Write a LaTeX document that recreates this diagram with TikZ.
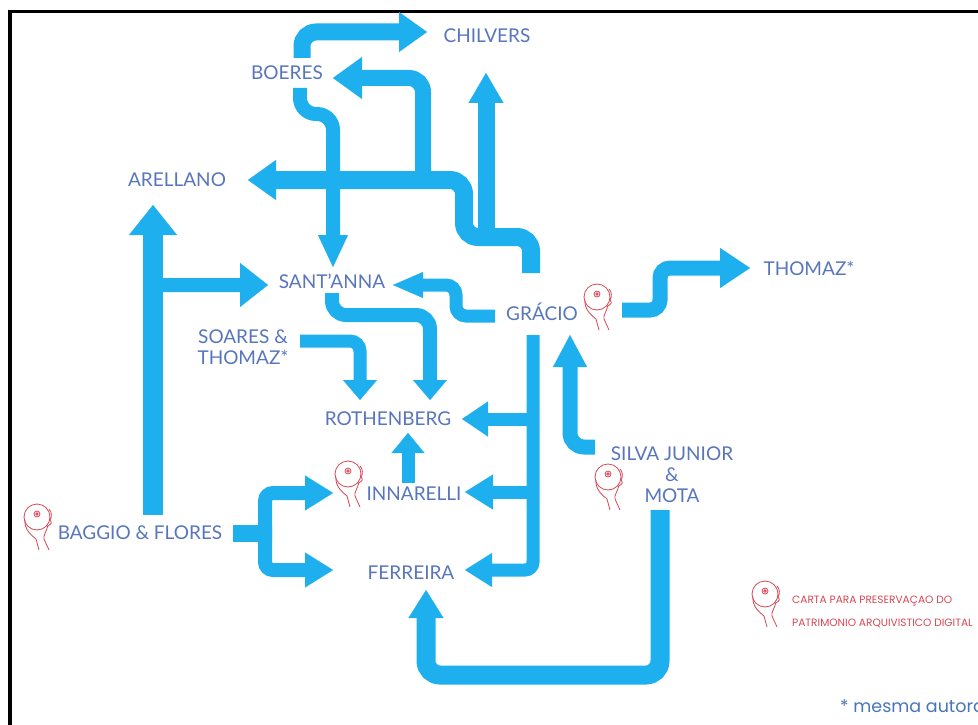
\documentclass[tikz,border=0pt]{standalone}
\usepackage{fontspec}
\setmainfont{Lato}
\newfontfamily\legfont{Poppins}
\usetikzlibrary{arrows.meta,calc}
\definecolor{arrowblue}{RGB}{30,176,238}
\definecolor{labelblue}{RGB}{88,118,188}
\definecolor{iconred}{RGB}{214,72,84}
\definecolor{notegray}{RGB}{72,118,186}
\begin{document}
\begin{tikzpicture}[x=1pt,y=-1pt,
  lab/.style={text=labelblue,font=\fontsize{19}{21}\selectfont,inner sep=0pt,text height=13.6pt,text depth=0pt},
  labm/.style={text=labelblue,font=\fontsize{19}{21}\selectfont,inner sep=0pt,align=center},
  flow/.style={draw=arrowblue,line width=16pt,rounded corners=14pt,-{Triangle[length=28pt,width=40pt,line width=0.1pt]}},
  bar/.style={draw=arrowblue,line width=16pt},
  legtext/.style={anchor=west,inner sep=0pt,text=iconred,font=\legfont\fontsize{10.6}{12}\selectfont},
  cdhand/.pic={
    \begin{scope}[iconred,line width=0.8pt]
      \draw (0,0) circle (13);
      \draw (0,-3) circle (3);
      \draw (0,-3) circle (1.2);
      \draw (-12,3) .. controls (-13,12) and (-6,18) .. (-1,22) -- (2,33);
      \draw (11,8) .. controls (10,14) and (6,18) .. (7,22) -- (12,33);
      \draw (12,-8) .. controls (15,-5) and (15,0) .. (13,3);
      \draw (13,3) .. controls (15,6) .. (11,9);
    \end{scope}
  }
]
\useasboundingbox (0,0) rectangle (978,725);
\fill[white] (0,0) rectangle (978,725);
\draw[line width=3.5pt] (10,740) -- (10,11.5) -- (990,11.5);

% labels
\node[lab] (chilvers) at (487,36) {CHILVERS};
\node[lab] (boeres) at (287,73) {BOERES};
\node[lab] (arellano) at (177,180) {ARELLANO};
\node[lab] (santanna) at (332,282) {SANT'ANNA};
\node[labm] (soares) at (243,347) {SOARES \&\\THOMAZ*};
\node[lab] (rothenberg) at (388,419) {ROTHENBERG};
\node[lab] (innarelli) at (414,494) {INNARELLI};
\node[lab] (baggio) at (140,533) {BAGGIO \& FLORES};
\node[lab] (ferreira) at (411,573) {FERREIRA};
\node[lab] (gracio) at (542,314) {GRÁCIO};
\node[lab] (thomaz) at (809,269) {THOMAZ*};
\node[labm] (silva) at (672,475) {SILVA JUNIOR\\\&\\MOTA};

% icons
\pic at (37,517) {cdhand};
\pic at (348,474) {cdhand};
\pic at (597,297) {cdhand};
\pic at (608,477) {cdhand};
\pic at (765,594) {cdhand};

% legend
\node[legtext] (leg1) at (792,601) {CARTA PARA PRESERVAÇAO DO};
\node[legtext] (leg2) at (792,623) {PATRIMONIO ARQUIVISTICO DIGITAL};
\node[anchor=base west,inner sep=0pt,text=notegray,font=\legfont\fontsize{17.5}{20}\selectfont] (note) at (840,712) {* mesma autora};

% arrows
\draw[flow,line width=17pt] ($(boeres)+(15,-15)$) -- (302,32) -- ($(chilvers)+(-60,-4)$);
\draw[flow,line width=18pt] ($(gracio)+(-11,-41)$) -- (531,237) -- (464,237) -- (464,180) -- ($(arellano)+(71,0)$);
\draw[flow,line width=17pt,-{Triangle[length=30pt,width=35pt,line width=0.1pt]}] (486,240) -- ($(chilvers)+(-1,37)$);
\draw[flow,line width=16pt,-{Triangle[length=29pt,width=42pt,line width=0.1pt]}] (423,184) -- (423,78) -- ($(boeres)+(46,5)$);
\draw[flow,line width=14pt,rounded corners=16pt,-{Triangle[length=32pt,width=30pt,line width=0.1pt]}] ($(boeres)+(13,15)$) -- (300,114) -- (333,114) -- ($(santanna)+(1,-15)$);
\draw[flow,line width=20pt,-{Triangle[length=30pt,width=48pt,line width=0.1pt]}] ($(baggio)+(13,-18)$) -- ($(arellano)+(-24,25)$);
\draw[flow,line width=14pt,rounded corners=10pt,-{Triangle[length=28pt,width=44pt,line width=0.1pt]}] (153,320) -- (153,285) -- ($(santanna)+(-64,3)$);
\draw[flow,line width=14pt,-{Triangle[length=20pt,width=34pt,line width=0.1pt]}] ($(santanna)+(0,11)$) -- (332,315) -- (430,315) -- ($(rothenberg)+(42,-19)$);
\draw[flow,line width=13pt,rounded corners=10pt,-{Triangle[length=20pt,width=34pt,line width=0.1pt]}] ($(soares)+(57,-6)$) -- (360,341) -- ($(rothenberg)+(-28,-19)$);
\draw[flow,line width=13pt,rounded corners=10pt,-{Triangle[length=30pt,width=26pt,line width=0.1pt]}] ($(gracio)+(-47,2)$) -- (456,316) -- (456,285) -- ($(santanna)+(61,3)$);
\draw[flow,line width=13pt,rounded corners=8pt,-{Triangle[length=27pt,width=34pt,line width=0.1pt]}] ($(gracio)+(-9,21)$) -- (533,570) -- ($(ferreira)+(54,-3)$);
\draw[flow,line width=13pt,-{Triangle[length=26pt,width=35pt,line width=0.1pt]}] (539,419) -- ($(rothenberg)+(74,0)$);
\draw[flow,line width=13pt,-{Triangle[length=28pt,width=35pt,line width=0.1pt]}] (539,492) -- ($(innarelli)+(51,-2)$);
\draw[flow,line width=13pt,-{Triangle[length=20pt,width=33pt,line width=0.1pt]}] ($(innarelli)+(-6,-11)$) -- ($(rothenberg)+(20,14)$);
\draw[bar,line width=17pt] ($(baggio)+(93,0)$) -- (272,533);
\draw[flow,line width=14pt,rounded corners=8pt,-{Triangle[length=28pt,width=35pt,line width=0.1pt]}] (265,540) -- (265,493) -- ($(innarelli)+(-81,-1)$);
\draw[flow,line width=14pt,rounded corners=8pt,-{Triangle[length=28pt,width=35pt,line width=0.1pt]}] (265,526) -- (265,570) -- ($(ferreira)+(-78,-3)$);
\draw[flow,line width=15pt,-{Triangle[length=32pt,width=34pt,line width=0.1pt]}] ($(silva)+(-77,-28)$) -- (570,447) -- ($(gracio)+(28,21)$);
\draw[flow,line width=15pt,rounded corners=10pt,-{Triangle[length=30pt,width=40pt,line width=0.1pt]}] ($(gracio)+(80,-4)$) -- (660,310) -- (660,268) -- ($(thomaz)+(-59,-1)$);
\draw[flow,line width=19pt,-{Triangle[length=28pt,width=35pt,line width=0.1pt]}] ($(silva)+(-12,35)$) -- (660,675) -- (426,675) -- ($(ferreira)+(15,17)$);
\end{tikzpicture}
\end{document}
